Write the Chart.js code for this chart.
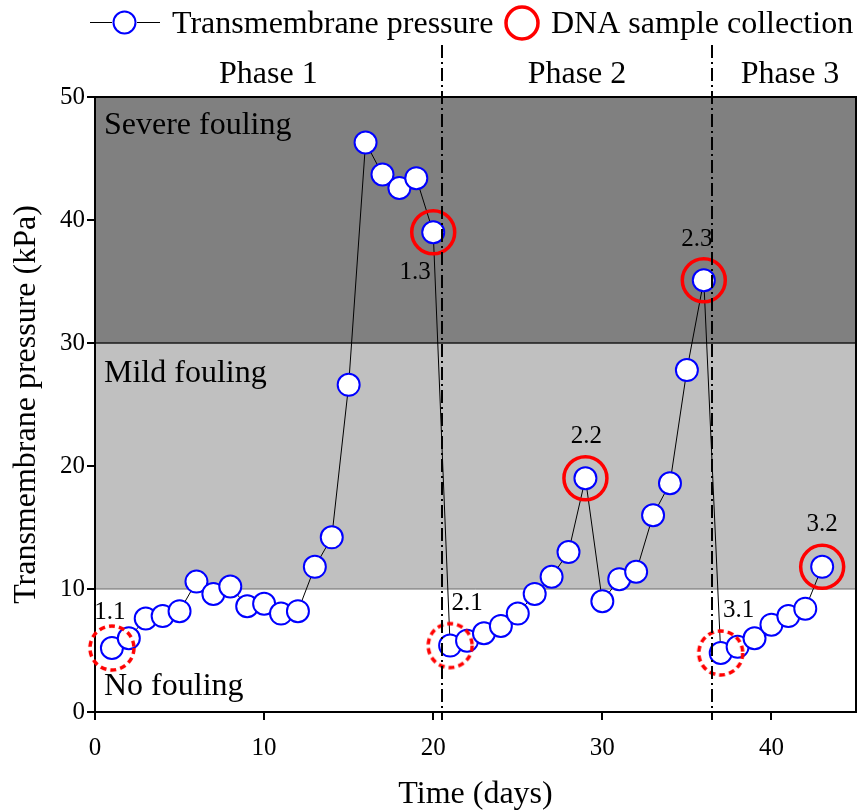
<!DOCTYPE html>
<html>
<head>
<meta charset="utf-8">
<script src="https://cdn.jsdelivr.net/npm/chart.js@4.4.1/dist/chart.umd.min.js"></script>
<style>
  body { margin: 0; background: #fff; }
  #wrap { width: 859px; height: 812px; }
</style>
</head>
<body>
<div id="wrap"><canvas id="chart"></canvas></div>
<script>
// Transmembrane pressure (kPa) per day
const days = [1, 2, 3, 4, 5, 6, 7, 8, 9, 10, 11, 12, 13, 14, 15, 16, 17, 18, 19, 20,
              21, 22, 23, 24, 25, 26, 27, 28, 29, 30, 31, 32, 33, 34, 35, 36,
              37, 38, 39, 40, 41, 42, 43];
const tmp = [5.2, 6.0, 7.6, 7.8, 8.2, 10.6, 9.6, 10.2, 8.6, 8.8, 8.0, 8.2, 11.8, 14.2, 26.6, 46.3, 43.7, 42.6, 43.4, 39.0,
             5.4, 5.8, 6.4, 7.0, 8.0, 9.6, 11.0, 13.0, 19.0, 9.0, 10.8, 11.4, 16.0, 18.6, 27.8, 35.1,
             4.8, 5.3, 6.0, 7.1, 7.8, 8.4, 11.8];

// DNA samples (solid = fouled membrane, dashed = clean start)
const sampleDays = [20, 29, 36, 43];
const samplePressure = [39.0, 19.0, 35.1, 11.8];
const startDays = [1, 21, 37];
const startPressure = [5.2, 5.4, 4.8];
const sampleIds = ['1.1', '1.3', '2.1', '2.2', '2.3', '3.1', '3.2'];
const sampleIdDays = [1, 20, 21, 29, 36, 37, 43];

// phases and fouling bands
const phaseNames = ['Phase 1', 'Phase 2', 'Phase 3'];
const phaseBreaks = [20.5, 36.5];
const bandNames = ['No fouling', 'Mild fouling', 'Severe fouling'];
const bandLimits = [0, 10, 30, 50];

const xTicks = [0, 10, 20, 30, 40];
const yTicks = [0, 10, 20, 30, 40, 50];

const FONT = "'Liberation Serif', 'Times New Roman', serif";
Chart.defaults.font.family = FONT;
Chart.defaults.color = '#000';

// dashed red ring used as point style
const dashRing = document.createElement('canvas');
dashRing.width = 54;
dashRing.height = 54;
(function () {
  const g = dashRing.getContext('2d');
  g.strokeStyle = '#ff0000';
  g.lineWidth = 3.5;
  g.setLineDash([6, 4]);
  g.beginPath();
  g.arc(27, 27, 22, 0, Math.PI * 2);
  g.stroke();
})();

const bandPlugin = {
  id: 'bands',
  beforeDraw(chart) {
    const { ctx, chartArea: a, scales: { y } } = chart;
    const fills = ['#ffffff', '#c0c0c0', '#808080'];
    ctx.save();
    for (let i = 0; i < 3; i++) {
      const top = y.getPixelForValue(bandLimits[i + 1]);
      const bot = y.getPixelForValue(bandLimits[i]);
      ctx.fillStyle = fills[i];
      ctx.fillRect(a.left, top, a.right - a.left, bot - top);
    }
    // band edges
    ctx.strokeStyle = '#6a6a6a';
    ctx.lineWidth = 1;
    ctx.beginPath();
    ctx.moveTo(a.left, y.getPixelForValue(10));
    ctx.lineTo(a.right, y.getPixelForValue(10));
    ctx.stroke();
    ctx.strokeStyle = '#1a1a1a';
    ctx.lineWidth = 1.5;
    ctx.beginPath();
    ctx.moveTo(a.left, y.getPixelForValue(30));
    ctx.lineTo(a.right, y.getPixelForValue(30));
    ctx.stroke();
    ctx.restore();
  },
  beforeDatasetsDraw(chart) {
    const { ctx, chartArea: a, scales: { y } } = chart;
    ctx.save();
    // frame top/right
    ctx.strokeStyle = '#000';
    ctx.lineWidth = 2;
    ctx.beginPath();
    ctx.moveTo(a.left, a.top);
    ctx.lineTo(a.right, a.top);
    ctx.lineTo(a.right, a.bottom);
    ctx.stroke();
    // band names
    ctx.fillStyle = '#000';
    ctx.font = '32px ' + FONT;
    ctx.textAlign = 'left';
    ctx.textBaseline = 'alphabetic';
    ctx.fillText(bandNames[2], a.left + 9, y.getPixelForValue(50) + 37);
    ctx.fillText(bandNames[1], a.left + 9, y.getPixelForValue(30) + 39);
    ctx.fillText(bandNames[0], a.left + 9, y.getPixelForValue(0) - 17);
    ctx.restore();
  },
  afterDatasetsDraw(chart) {
    const { ctx, chartArea: a, scales: { x, y } } = chart;
    ctx.save();
    // phase separators
    ctx.strokeStyle = '#000';
    ctx.lineWidth = 2;
    ctx.setLineDash([13, 4, 2, 4]);
    phaseBreaks.forEach(d => {
      const px = Math.round(x.getPixelForValue(d));
      ctx.beginPath();
      ctx.moveTo(px, 45);
      ctx.lineTo(px, a.bottom + 8);
      ctx.stroke();
    });
    ctx.setLineDash([]);
    // phase names
    ctx.fillStyle = '#000';
    ctx.font = '32px ' + FONT;
    ctx.textAlign = 'center';
    ctx.textBaseline = 'alphabetic';
    const centers = [10.25, 28.5, 41.1];
    phaseNames.forEach((n, i) => ctx.fillText(n, x.getPixelForValue(centers[i]), 83));
    // sample ids
    const offs = [[-2, -36], [-18, 40], [17, -42], [1, -42], [-7, -41], [18, -43], [0, -42]];
    ctx.font = '25px ' + FONT;
    ctx.textBaseline = 'middle';
    sampleIds.forEach((id, i) => {
      const d = sampleIdDays[i];
      const px = x.getPixelForValue(d);
      const py = y.getPixelForValue(tmp[days.indexOf(d)]);
      ctx.fillText(id, px + offs[i][0], py + offs[i][1]);
    });
    // legend
    ctx.strokeStyle = '#000';
    ctx.lineWidth = 1;
    ctx.beginPath();
    ctx.moveTo(90, 22.5); ctx.lineTo(112, 22.5);
    ctx.moveTo(137, 22.5); ctx.lineTo(160, 22.5);
    ctx.stroke();
    ctx.strokeStyle = '#0000ff';
    ctx.lineWidth = 2;
    ctx.fillStyle = '#fff';
    ctx.beginPath();
    ctx.arc(124.5, 22.5, 11, 0, Math.PI * 2);
    ctx.fill();
    ctx.stroke();
    ctx.strokeStyle = '#ff0000';
    ctx.lineWidth = 3.5;
    ctx.beginPath();
    ctx.arc(522, 23, 16, 0, Math.PI * 2);
    ctx.stroke();
    ctx.fillStyle = '#000';
    ctx.font = '32px ' + FONT;
    ctx.textAlign = 'left';
    ctx.textBaseline = 'alphabetic';
    ctx.fillText('Transmembrane pressure', 172, 33);
    ctx.fillText('DNA sample collection', 551, 33);
    ctx.restore();
  }
};

new Chart(document.getElementById('chart'), {
  type: 'line',
  data: {
    datasets: [
      {
        label: 'DNA sample collection',
        data: sampleDays.map((d, i) => ({ x: d, y: samplePressure[i] })),
        showLine: false,
        pointRadius: 21.5,
        pointBorderWidth: 3.5,
        pointBorderColor: '#ff0000',
        pointBackgroundColor: 'rgba(0,0,0,0)',
        clip: false
      },
      {
        label: 'Start sample',
        data: startDays.map((d, i) => ({ x: d, y: startPressure[i] })),
        showLine: false,
        pointStyle: dashRing,
        pointRadius: 22,
        clip: false
      },
      {
        label: 'Transmembrane pressure',
        data: days.map((d, i) => ({ x: d, y: tmp[i] })),
        borderColor: '#000',
        borderWidth: 1,
        tension: 0,
        pointRadius: 11,
        pointBorderWidth: 2,
        pointBorderColor: '#0000ff',
        pointBackgroundColor: '#ffffff',
        clip: false
      }
    ]
  },
  options: {
    responsive: true,
    maintainAspectRatio: false,
    animation: false,
    layout: { autoPadding: false, padding: { top: 97, right: 3, left: 0, bottom: 0 } },
    plugins: { legend: { display: false }, tooltip: { enabled: false } },
    scales: {
      x: {
        type: 'linear',
        min: 0,
        max: 45,
        afterBuildTicks: s => { s.ticks = xTicks.map(v => ({ value: v })); },
        afterFit: s => { s.height = 100; },
        grid: { drawOnChartArea: false, tickLength: 8, color: '#000', lineWidth: 2 },
        border: { color: '#000', width: 2 },
        ticks: { font: { size: 25 }, padding: 13, color: '#000' },
        title: { display: true, text: 'Time (days)', font: { size: 32, lineHeight: 1 }, padding: { top: 0, bottom: 1 } }
      },
      y: {
        min: 0,
        max: 50,
        afterBuildTicks: s => { s.ticks = yTicks.map(v => ({ value: v })); },
        afterFit: s => { s.width = 95; },
        grid: { drawOnChartArea: false, tickLength: 8, color: '#000', lineWidth: 2 },
        border: { color: '#000', width: 2 },
        ticks: { font: { size: 25 }, padding: 2, color: '#000' },
        title: { display: true, text: 'Transmembrane pressure (kPa)', font: { size: 32, lineHeight: 1 }, padding: { top: 11, bottom: 0 } }
      }
    }
  },
  plugins: [bandPlugin]
});
</script>
</body>
</html>
